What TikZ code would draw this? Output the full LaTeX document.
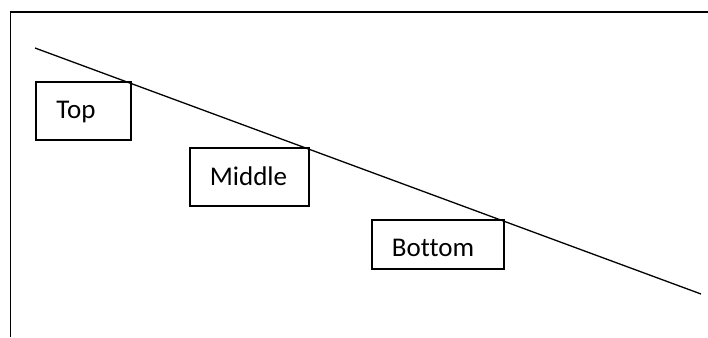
\documentclass[tikz,border=0pt]{standalone}
\usepackage{fontspec}
\setmainfont[Ligatures=NoCommon]{Carlito}
\begin{document}
\begin{tikzpicture}[x=1pt,y=-1pt,
  frame/.style={line width=1.3pt},
  lbox/.style={draw, line width=1.3pt, inner sep=0pt},
  ltext/.style={anchor=base, inner sep=0pt, font=\fontsize{27}{31}\selectfont}]
\useasboundingbox (0,0) rectangle (708,337);
% open frame
\draw[frame] (10.5,337) -- (10.5,12) -- (708,12);
% boxes
\node[lbox, minimum width=95pt, minimum height=58pt] (top) at (83.5,111) {};
\node[lbox, minimum width=119pt, minimum height=58pt] (middle) at (249.5,177) {};
\node[lbox, minimum width=132pt, minimum height=49pt] (bottom) at (438,244.5) {};
% labels
\node[ltext] (ttop) at (76,118) {Top};
\node[ltext] (tmid) at (248.5,185) {Middle};
\node[ltext] (tbot) at (433,256.5) {Bottom};
% diagonal line
\coordinate (a) at (35,48);
\coordinate (b) at (701,294);
\draw[line width=1.3pt] (a) -- (b);
\end{tikzpicture}
\end{document}
